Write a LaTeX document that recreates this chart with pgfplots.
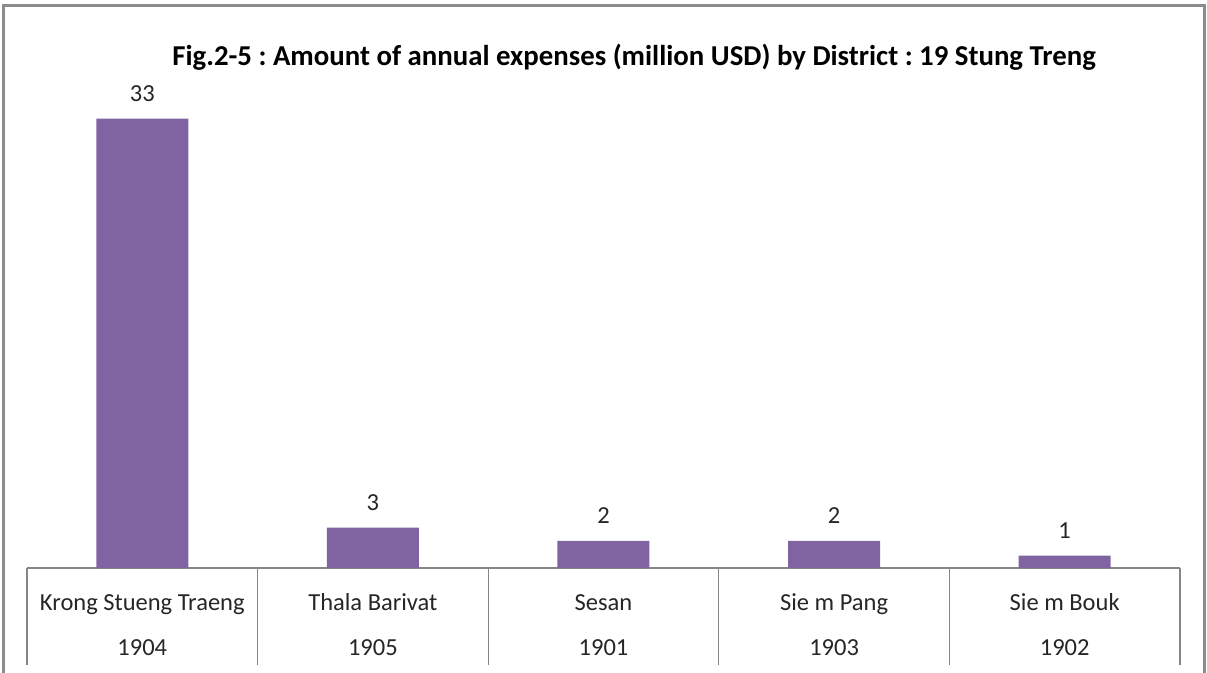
\documentclass[border=0pt]{standalone}
\usepackage{pgfplots}
\pgfplotsset{compat=1.18}
\usepackage{fontspec}
\setmainfont{Carlito}
\frenchspacing
\definecolor{barpurple}{HTML}{8064A2}
\definecolor{framegray}{HTML}{8C8C8C}
\definecolor{axgray}{HTML}{868686}
\definecolor{txt}{HTML}{262626}
\newcommand{\fl}{\vphantom{Tlk}}
\begin{document}
\begin{tikzpicture}
\useasboundingbox (0,0) rectangle (1207bp,673bp);
\fill[white] (0,0) rectangle (1207bp,673bp);
\draw[framegray, line width=3bp] (3bp,-2bp) -- (3bp,667bp) -- (1204bp,667bp) -- (1204bp,-2bp);
\begin{axis}[
  at={(27bp,105bp)}, anchor=south west,
  scale only axis, width=1153bp, height=500bp,
  xmin=-0.5, xmax=4.5, ymin=0, ymax=36.71,
  axis x line=bottom, axis y line=none,
  x axis line style={-, axgray, line width=1.2bp},
  xtick={0,1,2,3,4},
  xticklabels={\fl Krong Stueng Traeng\\[15bp]1904, \fl Thala Barivat\\[15bp]1905, \fl Sesan\\[15bp]1901, \fl Sie m Pang\\[15bp]1903, \fl Sie m Bouk\\[15bp]1902},
  xticklabel style={align=center, font=\fontsize{24.5bp}{30bp}\selectfont, text=txt, inner sep=0pt, anchor=north, yshift=-25bp},
  major tick length=0pt,
  tick align=outside,
  extra x ticks={-0.5,0.5,1.5,2.5,3.5,4.5},
  extra x tick labels={},
  extra x tick style={major tick length=97bp, tick style={axgray, line width=1.2bp}},
  clip=false,
  ybar, bar width=92bp,
  nodes near coords,
  point meta=explicit symbolic,
  every node near coord/.append style={font=\fontsize{24.5bp}{30bp}\selectfont, text=txt, anchor=south, inner sep=0pt, yshift=17bp},
  title={\bfseries Fig.2-5 : Amount of annual expenses (million USD) by District : 19 Stung Treng},
  title style={font=\fontsize{28.8bp}{34bp}\selectfont, text=black, at={(0.5265,1.010)}, anchor=center},
]
\addplot[fill=barpurple, draw=none] coordinates {(0,33) [33] (1,2.96) [3] (2,2.0) [2] (3,2.0) [2] (4,0.9) [1]};
\end{axis}
\end{tikzpicture}
\end{document}
